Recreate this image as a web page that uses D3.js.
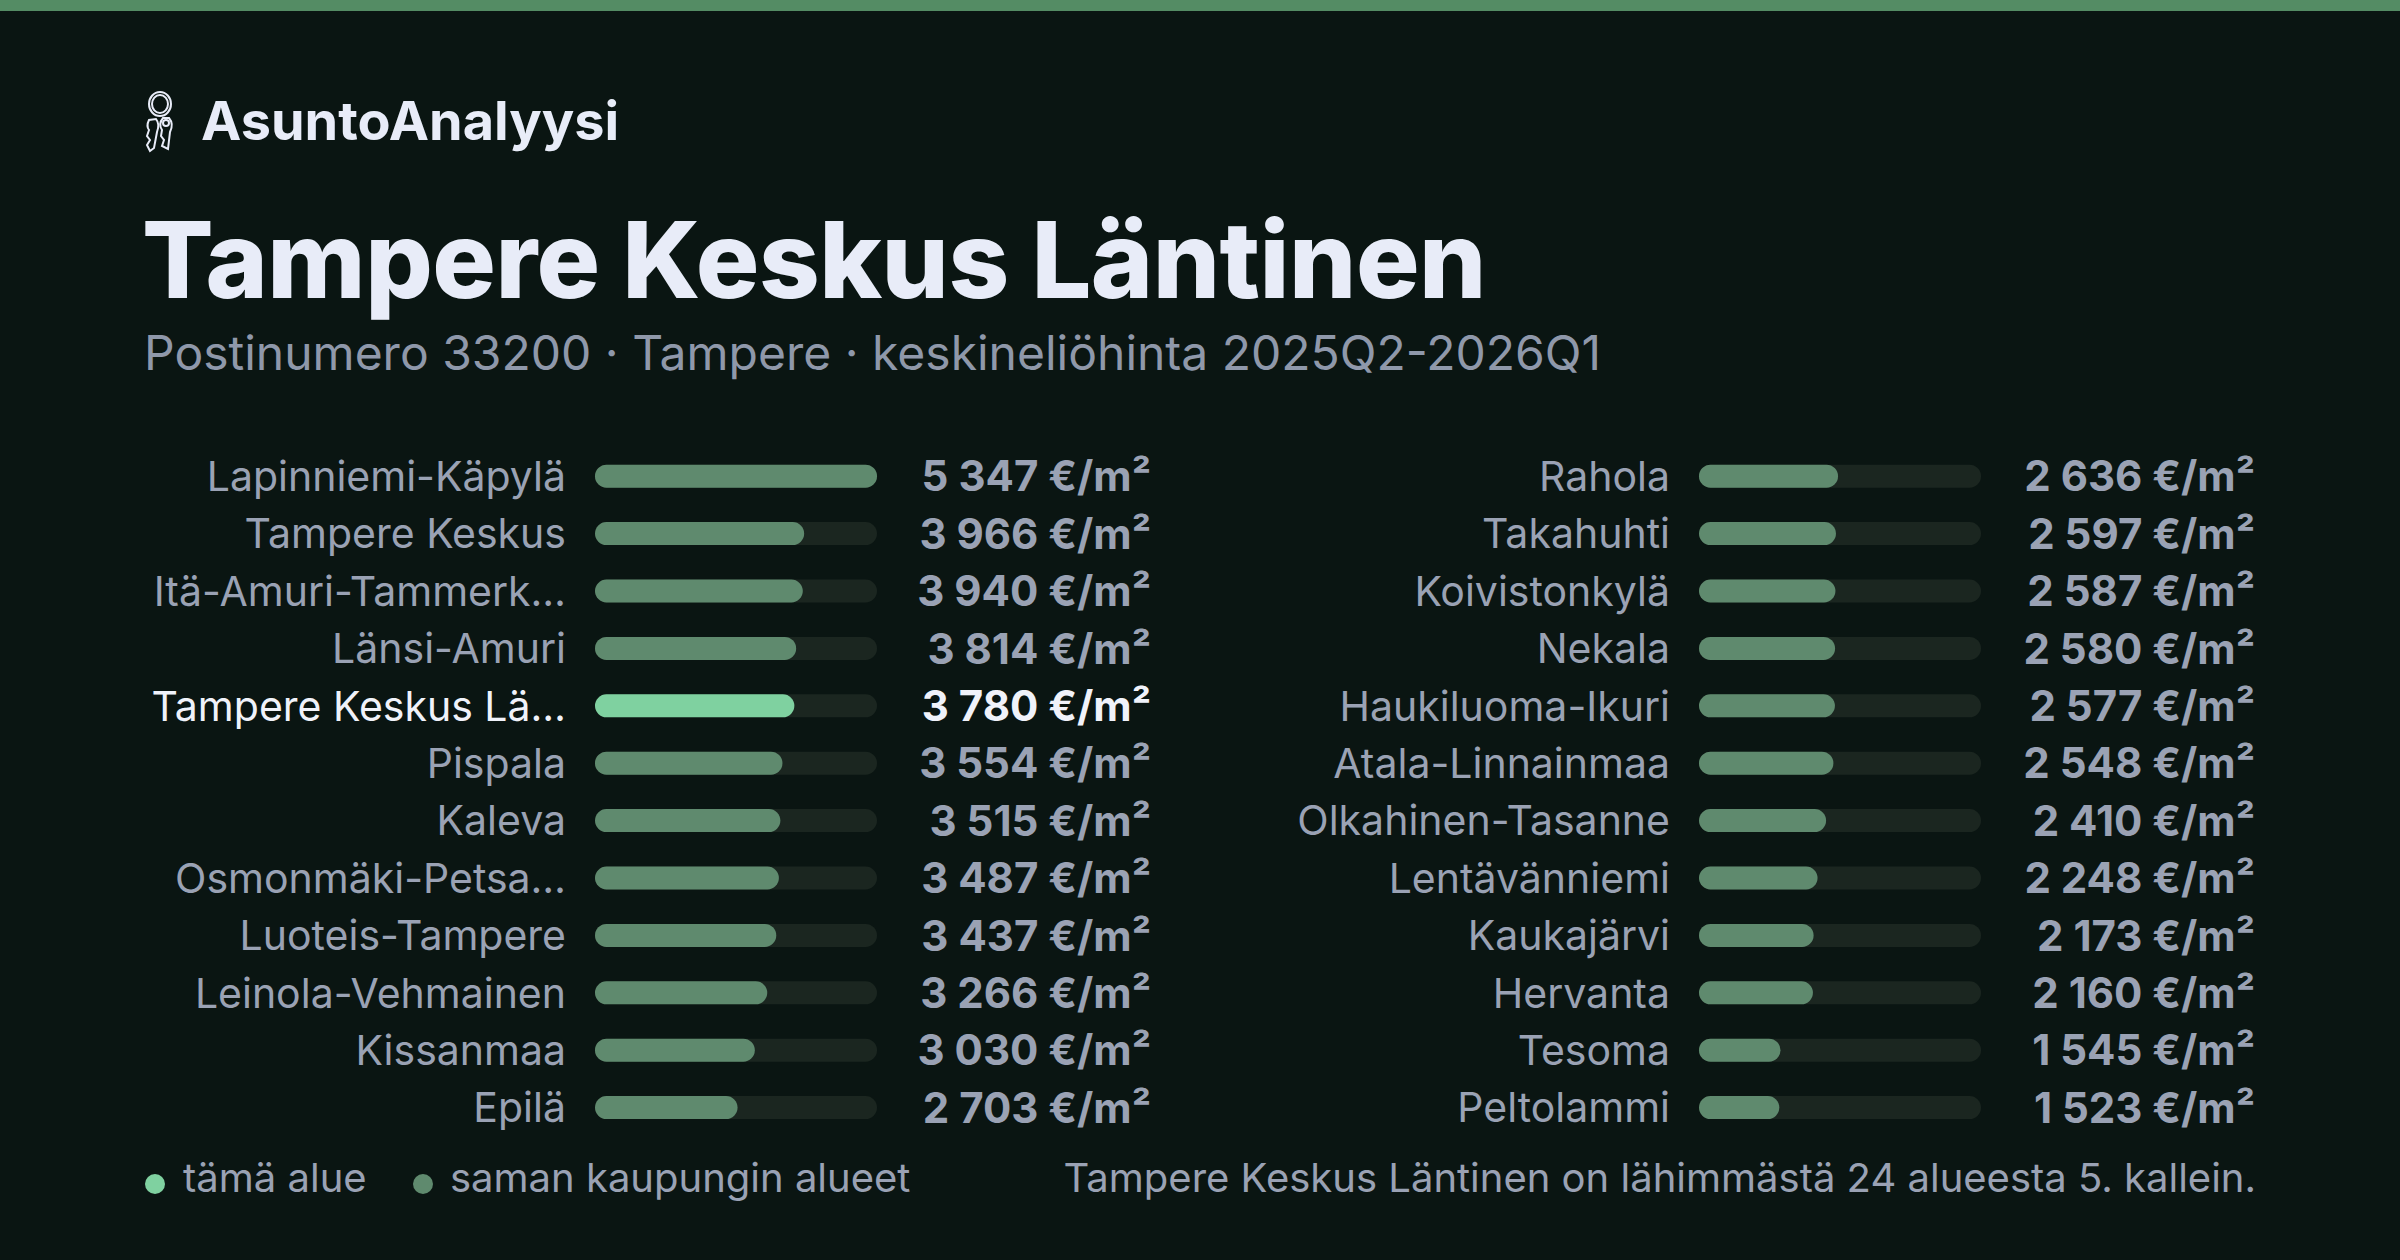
<!DOCTYPE html>
<html><head><meta charset="utf-8">
<script src="https://cdn.jsdelivr.net/npm/d3@7"></script>
<style>html,body{margin:0;padding:0;background:#0a1512;}svg{display:block;}</style>
</head><body><svg id="c" width="2400" height="1260"></svg>
<script>
const leftNames = ["Lapinniemi-Käpylä","Tampere Keskus","Itä-Amuri-Tammerk…","Länsi-Amuri","Tampere Keskus Lä…","Pispala","Kaleva","Osmonmäki-Petsa…","Luoteis-Tampere","Leinola-Vehmainen","Kissanmaa","Epilä"];
const leftValues = [5347,3966,3940,3814,3780,3554,3515,3487,3437,3266,3030,2703];
const rightNames = ["Rahola","Takahuhti","Koivistonkylä","Nekala","Haukiluoma-Ikuri","Atala-Linnainmaa","Olkahinen-Tasanne","Lentävänniemi","Kaukajärvi","Hervanta","Tesoma","Peltolammi"];
const rightValues = [2636,2597,2587,2580,2577,2548,2410,2248,2173,2160,1545,1523];
const highlightName = "Tampere Keskus Lä…";

const svg = d3.select("#c");
const F = "Inter, 'Noto Sans', sans-serif";
svg.append("rect").attr("width",2400).attr("height",1260).attr("fill","#0a1512");
svg.append("rect").attr("width",2400).attr("height",11).attr("fill","#548c64");

// logo icon (keys)
const g = svg.append("g").attr("transform","translate(143,92)").attr("fill","none").attr("stroke","#e8ecf8").attr("stroke-width",2);
g.append("ellipse").attr("cx",17).attr("cy",12).attr("rx",11).attr("ry",12);
g.append("ellipse").attr("cx",17).attr("cy",12).attr("rx",8).attr("ry",9);
g.append("path").attr("d","M6,28 Q3,34 6,38 L4,44 L7,48 L4,53 L7,59 L11,56 L14,40 Q17,32 13,27 Z");
g.append("path").attr("d","M20,26 Q15,32 19,38 L18,44 L21,48 L19,54 L25,57 L27,40 Q31,32 26,26 Z");
g.append("circle").attr("cx",23).attr("cy",31).attr("r",3);
svg.append("text").attr("x",201).attr("y",140).attr("font-family",F).attr("font-weight",700).attr("font-size",54).attr("fill","#e8ecf8").text("AsuntoAnalyysi");

svg.append("text").attr("x",142).attr("y",298).attr("font-family",F).attr("font-weight",800).attr("font-size",106).attr("letter-spacing",-0.5).attr("fill","#e8ecf8").text("Tampere Keskus Läntinen");
svg.append("text").attr("x",144).attr("y",370).attr("font-family",F).attr("font-size",48).attr("fill","#8f98aa").text("Postinumero 33200 · Tampere · keskineliöhinta 2025Q2-2026Q1");

const maxV = d3.max(leftValues.concat(rightValues));
const y = d3.scaleBand().domain(d3.range(12)).range([447.5,447.5+57.4*12]).paddingInner(0.6).paddingOuter(0.3);
const fmt = v => d3.format(",")(v).replace(/,/g," ") + " €/m²";

function column(names, values, labelX, trackX, valX){
  const x = d3.scaleLinear().domain([0,maxV]).range([0,282]);
  const rows = svg.append("g").selectAll("g").data(names.map((n,i)=>({n,v:values[i],i}))).join("g")
    .attr("transform",d=>`translate(0,${y(d.i)})`);
  const bh = y.bandwidth();
  rows.append("rect").attr("x",trackX).attr("width",282).attr("height",bh).attr("rx",bh/2).attr("fill","#1b2620");
  rows.append("rect").attr("x",trackX).attr("width",d=>x(d.v)).attr("height",bh).attr("rx",bh/2)
    .attr("fill",d=>d.n===highlightName?"#7fd1a0":"#5f8a6e");
  rows.append("text").attr("x",labelX).attr("y",bh/2).attr("dy","0.36em").attr("text-anchor","end")
    .attr("font-family",F).attr("font-size",41).attr("fill",d=>d.n===highlightName?"#f0f2fa":"#9aa2b4").text(d=>d.n);
  rows.append("text").attr("x",valX).attr("y",bh/2).attr("dy","0.36em").attr("text-anchor","end")
    .attr("font-family",F).attr("font-weight",700).attr("font-size",42).attr("fill",d=>d.n===highlightName?"#f0f2fa":"#9aa2b4").text(d=>fmt(d.v));
}
column(leftNames,leftValues,566,595,1151);
column(rightNames,rightValues,1670,1699,2255);

svg.append("circle").attr("cx",155).attr("cy",1184).attr("r",10).attr("fill","#7fd1a0");
svg.append("text").attr("x",183).attr("y",1178).attr("dy","0.36em").attr("font-family",F).attr("font-size",40).attr("fill","#9aa2b4").text("tämä alue");
svg.append("circle").attr("cx",423).attr("cy",1184).attr("r",10).attr("fill","#5f8a6e");
svg.append("text").attr("x",450).attr("y",1178).attr("dy","0.36em").attr("font-family",F).attr("font-size",40).attr("fill","#9aa2b4").text("saman kaupungin alueet");
svg.append("text").attr("x",2256).attr("y",1178).attr("dy","0.36em").attr("text-anchor","end").attr("font-family",F).attr("font-size",40).attr("fill","#9aa2b4").text("Tampere Keskus Läntinen on lähimmästä 24 alueesta 5. kallein.");
</script></body></html>
